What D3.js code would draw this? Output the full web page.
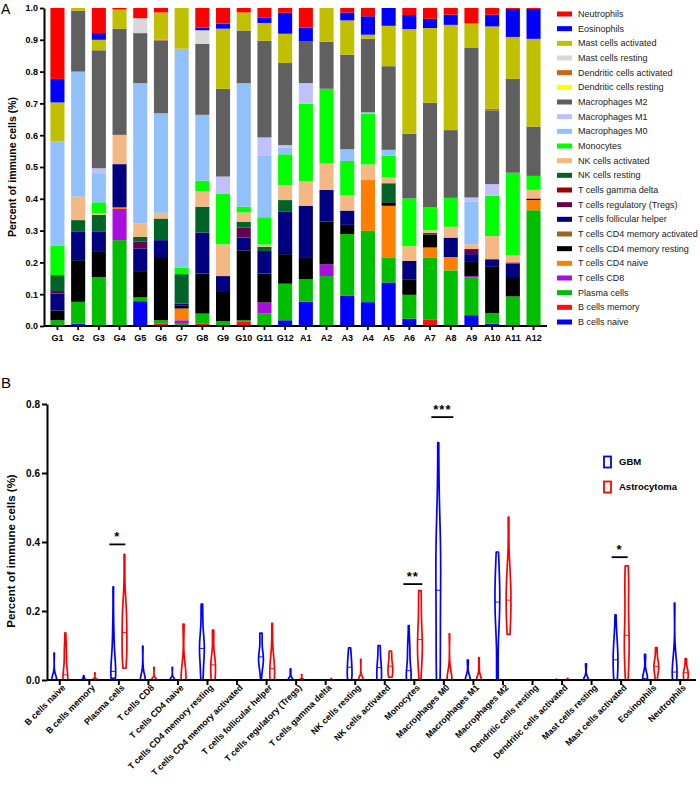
<!DOCTYPE html>
<html><head><meta charset="utf-8">
<script src="https://cdn.jsdelivr.net/npm/d3@7"></script>
<style>body{margin:0;background:#fff}svg{display:block;font-family:"Liberation Sans",Arial,sans-serif}</style>
</head><body>
<svg id="chart" width="700" height="792"></svg>
<script>
// ---------------- DATA ----------------
const samples = ["G1","G2","G3","G4","G5","G6","G7","G8","G9","G10","G11","G12",
                 "A1","A2","A3","A4","A5","A6","A7","A8","A9","A10","A11","A12"];
// stack order (bottom -> top)
const cellTypes = ["B cells naive","B cells memory","Plasma cells","T cells CD8","T cells CD4 naive",
  "T cells CD4 memory resting","T cells CD4 memory activated","T cells follicular helper",
  "T cells regulatory (Tregs)","T cells gamma delta","NK cells resting","NK cells activated",
  "Monocytes","Macrophages M0","Macrophages M1","Macrophages M2","Dendritic cells resting",
  "Dendritic cells activated","Mast cells resting","Mast cells activated","Eosinophils","Neutrophils"];
// fractions per sample (G1..G12, A1..A12)
const bCellsNaive   = [0,.007,0,0,.078,0,0,0,0,0,0,.018, .076,0,.096,.075,.137,.023,0,0,.034,.007,0,0];
const bCellsMemory  = [0,0,0,0,0,.007,0,.007,0,.013,0,0, 0,0,0,0,0,0,.021,0,0,0,0,0];
const plasmaCells   = [.018,.069,.154,.27,.012,.011,.007,.032,.015,.005,.039,.115, .071,.157,.193,.224,.079,.075,.193,.175,.118,.034,.093,.364];
const tCellsCD8     = [0,0,0,.098,0,0,.011,0,0,0,.035,0, 0,.037,0,0,0,0,0,0,.005,0,0,0];
const tCD4Naive     = [0,0,0,.005,0,0,.037,0,0,0,0,0, 0,0,0,.16,.162,0,.033,.042,0,0,0,.032];
const tCD4MemRest   = [.031,.131,.079,0,.08,.199,.01,.126,.092,.22,.091,.093, .067,.134,.029,0,.011,.049,.041,0,.047,.145,.061,.005];
const tCD4MemAct    = [0,0,0,0,0,0,0,0,0,0,0,0, 0,0,0,0,0,0,0,0,0,0,0,0];
const tFollHelper   = [.053,.089,.063,.136,.074,.053,.005,.129,.05,.04,.071,.133, .164,.1,.045,0,0,.058,0,.061,.022,.024,.042,0];
const tRegs         = [.008,0,0,0,.021,0,0,0,0,.032,0,0, 0,0,0,0,0,0,0,0,.016,0,0,0];
const tGammaDelta   = [0,0,0,0,0,0,0,0,0,0,0,0, 0,0,0,0,0,0,0,0,0,0,.004,0];
const nkResting     = [.05,.037,.053,0,.015,.068,.093,.081,0,.018,.013,.037, 0,0,0,0,.06,0,.005,0,0,0,0,0];
const nkActivated   = [0,.074,.005,.092,.043,.018,0,.049,.1,.029,.007,.047, .078,.084,.048,.049,.018,.046,.008,.034,.015,.073,.023,.027];
const monocytes     = [.092,0,.035,0,0,0,.021,.033,.158,.018,.086,.097, .243,.234,.108,.16,.069,.15,.073,.091,0,.127,.259,.044];
const macroM0       = [.328,.393,.089,0,.441,.313,.688,.207,0,.389,.193,.021, 0,0,.037,.004,.018,0,0,0,.134,0,0,0];
const macroM1       = [0,0,.018,0,0,0,0,0,.055,0,.058,.008, .065,0,0,0,0,0,0,0,.013,.036,0,0];
const macroM2       = [0,.192,.371,.334,.157,.229,0,.223,.276,.165,.304,.258, .132,.148,.297,.231,.263,.204,.328,.213,.472,.232,.295,.155];
const dcResting     = [0,0,0,0,0,0,0,0,0,0,0,0, 0,0,0,0,0,0,0,0,0,0,0,0];
const dcActivated   = [0,0,0,0,0,.002,0,0,0,0,0,0, 0,0,0,0,0,0,0,0,0,.005,0,0];
const mastResting   = [0,0,0,0,.047,0,0,.043,0,0,0,0, 0,0,0,0,0,0,0,0,0,0,0,0];
const mastActivated = [.123,.008,.033,.06,0,.086,.128,0,.189,.057,.056,.092, 0,.106,.108,.013,.127,.329,.235,.331,.075,.259,.132,.276];
const eosinophils   = [.074,0,.021,0,0,0,0,.008,.016,0,.016,.066, .042,0,.025,.058,.056,.044,.029,.032,0,.037,.088,.094];
const neutrophils   = [.223,0,.079,.005,.032,.014,0,.062,.049,.014,.031,.015, .062,0,.014,.026,0,.022,.034,.021,.049,.021,.003,.003];

const fractionArrays = [bCellsNaive,bCellsMemory,plasmaCells,tCellsCD8,tCD4Naive,tCD4MemRest,tCD4MemAct,
  tFollHelper,tRegs,tGammaDelta,nkResting,nkActivated,monocytes,macroM0,macroM1,macroM2,dcResting,
  dcActivated,mastResting,mastActivated,eosinophils,neutrophils];

const groups = ["GBM","Astrocytoma"];
const yTicksA = [0,.1,.2,.3,.4,.5,.6,.7,.8,.9,1.0];
const yTicksB = [0,.2,.4,.6,.8];
const significance = [
  {cell:"Plasma cells", mark:"*", level:.393},
  {cell:"Monocytes", mark:"**", level:.278},
  {cell:"Macrophages M0", mark:"***", level:.762},
  {cell:"Mast cells activated", mark:"*", level:.356}
];

// ---------------- STYLE ----------------
const cellColors = ["#0000FF","#FF1010","#00BF00","#A80FDC","#FF8000","#000000","#9C6428","#000080",
  "#660050","#A00000","#006428","#F4B884","#00FF00","#92C0FA","#C0C0FF","#606060","#FFFF00",
  "#C86414","#D8D8D8","#C0C000","#0000FF","#FF0000"];
const groupColors = ["#0000FF","#FF0000"];

const svg = d3.select("#chart");

// ---------------- PANEL A ----------------
const rows = samples.map((s,i)=>{const r={sample:s}; cellTypes.forEach((c,k)=>r[c]=fractionArrays[k][i]); return r;});
const stacked = d3.stack().keys(cellTypes)(rows);

const xA = d3.scaleBand().domain(samples).range([44,547]).paddingInner(0.32).paddingOuter(0.31);
const yA = d3.scaleLinear().domain([0,1]).range([326,8]);

const gA = svg.append("g");
gA.selectAll("g.layer").data(stacked).join("g").attr("class","layer")
  .attr("fill",(d,i)=>cellColors[i])
  .selectAll("rect").data(d=>d).join("rect")
  .attr("x",d=>xA(d.data.sample))
  .attr("width",xA.bandwidth())
  .attr("y",d=>yA(d[1]))
  .attr("height",d=>Math.max(0,yA(d[0])-yA(d[1])));

const axA_y = gA.append("g").attr("transform","translate(44,0)")
  .call(d3.axisLeft(yA).tickValues(yTicksA).tickFormat(d3.format(".1f")).tickSize(4).tickSizeOuter(0));
const axA_x = gA.append("g").attr("transform","translate(0,326)")
  .call(d3.axisBottom(xA).tickSize(4).tickSizeOuter(0).tickPadding(5));
[axA_y,axA_x].forEach(a=>{
  a.select(".domain").attr("stroke","#000").attr("stroke-width",2);
  a.selectAll(".tick line").attr("stroke","#000").attr("stroke-width",1.8);
  a.selectAll("text").attr("fill","#000").attr("font-weight","bold").attr("font-size",9)
   .attr("font-family","'Liberation Sans',Arial,sans-serif");
});
axA_x.select(".domain").attr("d","M44,0H547");
axA_y.selectAll("text").attr("x",-6);

gA.append("text").attr("transform","translate(16,167) rotate(-90)").attr("text-anchor","middle")
  .attr("font-weight","bold").attr("font-size",10.5).text("Percent of immune cells (%)");
svg.append("text").attr("x",1).attr("y",14).attr("font-size",14).text("A");

// legend A (top -> bottom is reverse stack order)
const legendA = gA.append("g");
const legItems = cellTypes.map((c,i)=>({c,col:cellColors[i]})).reverse();
const legY = d3.scalePoint().domain(legItems.map(d=>d.c)).range([14,322]);
legItems.forEach(d=>{
  legendA.append("rect").attr("x",557).attr("y",legY(d.c)-2.5).attr("width",15).attr("height",5).attr("fill",d.col);
  legendA.append("text").attr("x",578).attr("y",legY(d.c)).attr("dy","0.35em")
    .attr("font-size",9).attr("fill","#222").text(d.c);
});

// ---------------- PANEL B ----------------
const xB = d3.scaleBand().domain(cellTypes).range([45,695]);
const yB = d3.scaleLinear().domain([0,0.8]).range([680,404]);
const offset = 5.6, halfW = 2.4;

function violin(values){
  const sd = d3.deviation(values);
  const lo = d3.min(values), hi = d3.max(values);
  if(!sd || hi<=lo) return null;
  const h = 0.9*sd*Math.pow(values.length,-0.2);
  const N = 90;
  const pts = d3.range(N+1).map(i=>{
    const x = lo+(hi-lo)*i/N;
    const dens = d3.mean(values,v=>Math.exp(-0.5*((x-v)/h)**2));
    return [x,dens];
  });
  const m = d3.max(pts,p=>p[1]);
  pts.forEach(p=>p[1]=p[1]/m);
  const med = d3.median(values);
  const idx = Math.min(N,Math.round((med-lo)/(hi-lo)*N));
  return {pts, med, medW: pts[idx][1]};
}

const gB = svg.append("g");
cellTypes.forEach((c,k)=>{
  const vals = fractionArrays[k];
  const byGroup = [vals.slice(0,12), vals.slice(12)];
  byGroup.forEach((gv,gi)=>{
    const v = violin(gv);
    if(!v) return;
    const cx = xB(c)+xB.bandwidth()/2 + (gi===0?-offset:offset);
    const area = d3.area().y(p=>yB(p[0])).x0(p=>cx-halfW*p[1]).x1(p=>cx+halfW*p[1]);
    gB.append("path").attr("d",area(v.pts)).attr("fill","#fff")
      .attr("stroke",groupColors[gi]).attr("stroke-width",1.7).attr("stroke-linejoin","round");
    gB.append("line").attr("x1",cx-halfW*v.medW).attr("x2",cx+halfW*v.medW)
      .attr("y1",yB(v.med)).attr("y2",yB(v.med)).attr("stroke",groupColors[gi]).attr("stroke-width",0.9);
  });
});

const axB_y = gB.append("g").attr("transform","translate(47,0)")
  .call(d3.axisLeft(yB).tickValues(yTicksB).tickFormat(d3.format(".1f")).tickSize(5).tickSizeOuter(0));
const axB_x = gB.append("g").attr("transform","translate(0,680)")
  .call(d3.axisBottom(xB).tickSize(5).tickSizeOuter(0));
[axB_y,axB_x].forEach(a=>{
  a.select(".domain").attr("stroke","#000").attr("stroke-width",2);
  a.selectAll(".tick line").attr("stroke","#000").attr("stroke-width",2);
  a.selectAll("text").attr("fill","#000").attr("font-weight","bold")
   .attr("font-family","'Liberation Sans',Arial,sans-serif");
});
axB_x.select(".domain").attr("d","M47,0H696");
axB_y.selectAll("text").attr("font-size",10).attr("x",-7);
axB_x.selectAll("text").attr("font-size",8.8).attr("text-anchor","end")
  .attr("transform","translate(4,6) rotate(-45)").attr("x",0).attr("y",0).attr("dy","0.35em");

gB.append("text").attr("transform","translate(15,551) rotate(-90)").attr("text-anchor","middle")
  .attr("font-weight","bold").attr("font-size",11.5).text("Percent of immune cells (%)");
svg.append("text").attr("x",1).attr("y",388).attr("font-size",15).text("B");

// significance marks
significance.forEach(s=>{
  const cx = xB(s.cell)+xB.bandwidth()/2;
  const y = yB(s.level);
  const hw = 7 + s.mark.length*1.5;
  gB.append("line").attr("x1",cx-hw-1).attr("x2",cx+hw-2).attr("y1",y).attr("y2",y)
    .attr("stroke","#000").attr("stroke-width",1.8);
  gB.append("text").attr("x",cx-1.5).attr("y",y-3).attr("text-anchor","middle")
    .attr("font-weight","bold").attr("font-size",13).attr("letter-spacing",1).text(s.mark);
});

// legend B
groups.forEach((g,i)=>{
  const y = 462 + i*25;
  gB.append("rect").attr("x",604).attr("y",y-5.5).attr("width",7).attr("height",11)
    .attr("fill","#fff").attr("stroke",groupColors[i]).attr("stroke-width",1.8);
  gB.append("text").attr("x",619).attr("y",y).attr("dy","0.35em").attr("font-size",9.5)
    .attr("font-weight","bold").text(g);
});
</script>
</body></html>
